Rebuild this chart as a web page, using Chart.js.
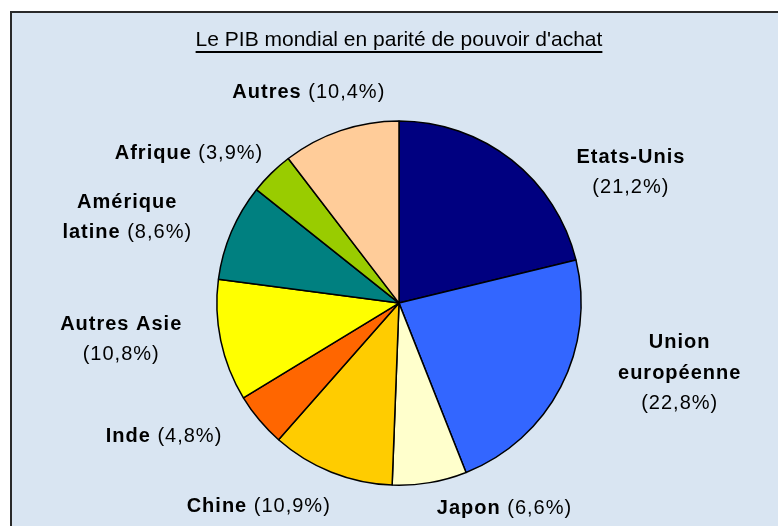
<!DOCTYPE html>
<html lang="fr">
<head>
<meta charset="utf-8">
<title>Le PIB mondial en parité de pouvoir d'achat</title>
<script src="https://cdn.jsdelivr.net/npm/chart.js@4/dist/chart.umd.min.js"></script>
<style>
  html, body { margin: 0; padding: 0; background: #fff; }
  #wrap { position: relative; width: 778px; height: 526px; }
</style>
</head>
<body>
<div id="wrap"><canvas id="pib" width="778" height="526"></canvas></div>
<script>
const regions = ['Etats-Unis', 'Union européenne', 'Japon', 'Chine', 'Inde', 'Autres Asie', 'Amérique latine', 'Afrique', 'Autres'];
const shares = [21.2, 22.8, 6.6, 10.9, 4.8, 10.8, 8.6, 3.9, 10.4];
const sliceColors = ['#000080', '#3366ff', '#ffffcc', '#ffcc00', '#ff6600', '#ffff00', '#008080', '#99cc00', '#ffcc99'];
const chartTitle = "Le PIB mondial en parité de pouvoir d'achat";

// words per line for each label, and whether the % sits on its own line
const labelWrap = [
  [[1], true], [[1, 1], true], [[1], false], [[1], false], [[1], false],
  [[2], true], [[1, 1], false], [[1], false], [[1], false]
];
// label block centre, in radii from the pie centre
const labelSpots = [
  [1.273, -0.727], [1.541, 0.377], [0.579, 1.120], [-0.770, 1.109], [-1.290, 0.721],
  [-1.525, 0.191], [-1.492, -0.478], [-1.153, -0.831], [-0.495, -1.164]
];

const FONT = '"Liberation Sans", Arial, sans-serif';

function pctText(v){
  return '(' + v.toFixed(1).replace('.', ',') + '%)';
}

function labelLines(i){
  const words = regions[i].split(' ');
  const [counts, pctAlone] = labelWrap[i];
  let lines = [], w = 0;
  for(const n of counts){
    lines.push([{text: words.slice(w, w + n).join(' '), bold: true}]);
    w += n;
  }
  if(pctAlone) lines.push([{text: pctText(shares[i]), bold: false}]);
  else lines[lines.length - 1].push({text: ' ' + pctText(shares[i]), bold: false});
  return lines;
}

const backdrop = {
  id: 'backdrop',
  beforeDraw(chart){
    const ctx = chart.ctx;
    ctx.save();
    ctx.fillStyle = '#ffffff';
    ctx.fillRect(0, 0, chart.width, chart.height);
    ctx.fillStyle = '#d9e5f2';
    ctx.fillRect(10, 12, chart.width - 10, chart.height - 12);
    ctx.strokeStyle = '#2a2a2a';
    ctx.lineWidth = 2;
    ctx.beginPath();
    ctx.moveTo(11, chart.height);
    ctx.lineTo(11, 12);
    ctx.lineTo(chart.width, 12);
    ctx.stroke();
    ctx.restore();
  }
};

const titleLine = {
  id: 'titleLine',
  afterDraw(chart){
    const ctx = chart.ctx, tb = chart.titleBlock;
    if(!tb) return;
    ctx.save();
    ctx.font = '21px ' + FONT;
    const w = ctx.measureText(chartTitle).width;
    const cx = tb.left + tb.width / 2;
    ctx.fillStyle = '#000';
    ctx.fillRect(cx - w / 2, 51, w, 2);
    ctx.restore();
  }
};

const sliceLabels = {
  id: 'sliceLabels',
  afterDatasetsDraw(chart){
    const ctx = chart.ctx;
    const arcs = chart.getDatasetMeta(0).data;
    const lh = 30.5, size = 20;
    ctx.save();
    ctx.fillStyle = '#000';
    ctx.textAlign = 'left';
    ctx.textBaseline = 'alphabetic';
    ctx.letterSpacing = '1px';
    arcs.forEach((arc, i) => {
      const r = arc.outerRadius;
      const cx = arc.x + labelSpots[i][0] * r;
      const cy = arc.y + labelSpots[i][1] * r;
      const lines = labelLines(i);
      lines.forEach((segs, k) => {
        const base = cy + (k - (lines.length - 1) / 2) * lh + size * 0.716 / 2;
        let total = 0;
        segs.forEach(s => {
          ctx.font = (s.bold ? 'bold ' : '') + size + 'px ' + FONT;
          s.w = ctx.measureText(s.text).width;
          total += s.w;
        });
        let x = cx - total / 2;
        segs.forEach(s => {
          ctx.font = (s.bold ? 'bold ' : '') + size + 'px ' + FONT;
          ctx.fillText(s.text, x, base);
          x += s.w;
        });
      });
    });
    ctx.restore();
  }
};

new Chart(document.getElementById('pib'), {
  type: 'pie',
  data: {
    labels: regions,
    datasets: [{
      data: shares,
      backgroundColor: sliceColors,
      borderColor: '#000000',
      borderWidth: 1.5
    }]
  },
  options: {
    responsive: false,
    animation: false,
    layout: { padding: { left: 20, right: 0, top: 0, bottom: 40 } },
    plugins: {
      legend: { display: false },
      tooltip: { enabled: false },
      title: {
        display: true,
        text: chartTitle,
        color: '#000',
        font: { family: FONT, size: 21, weight: 'normal', lineHeight: 1.2 },
        padding: { top: 28, bottom: 67 }
      }
    }
  },
  plugins: [backdrop, titleLine, sliceLabels]
});
</script>
</body>
</html>
